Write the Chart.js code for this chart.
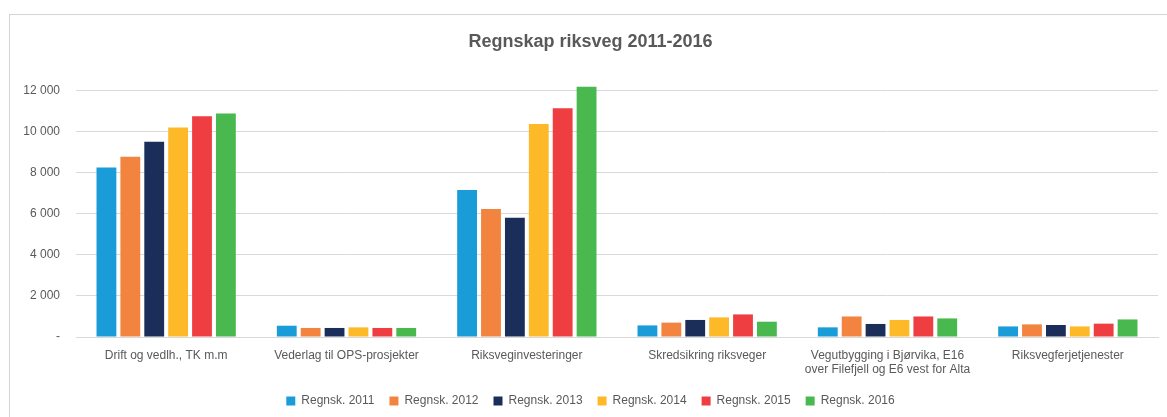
<!DOCTYPE html>
<html>
<head>
<meta charset="utf-8">
<script src="https://cdn.jsdelivr.net/npm/chart.js@4.4.1/dist/chart.umd.min.js"></script>
<style>
  html, body { margin: 0; padding: 0; background: #fff; }
  #wrap { position: relative; width: 1167px; height: 417px; }
  #frame { position: absolute; left: 9px; top: 14px; width: 1200px; height: 450px;
           border-left: 1px solid #d4d4d4; border-top: 1px solid #d4d4d4; pointer-events: none; }
</style>
</head>
<body>
<div id="wrap">
  <canvas id="chart" width="1167" height="417"></canvas>
  <div id="frame"></div>
</div>
<script>
const categories = [
    'Drift og vedlh., TK m.m',
    'Vederlag til OPS-prosjekter',
    'Riksveginvesteringer',
    'Skredsikring riksveger',
    ['Vegutbygging i Bjørvika, E16', 'over Filefjell og E6 vest for Alta'],
    'Riksvegferjetjenester'
];
const seriesNames = ['Regnsk. 2011', 'Regnsk. 2012', 'Regnsk. 2013', 'Regnsk. 2014', 'Regnsk. 2015', 'Regnsk. 2016'];
const regnsk2011 = [8260, 550, 7160, 565, 470, 515];
const regnsk2012 = [8780, 440, 6235, 700, 1000, 615];
const regnsk2013 = [9510, 440, 5810, 830, 635, 585];
const regnsk2014 = [10200, 470, 10375, 955, 830, 515];
const regnsk2015 = [10750, 440, 11135, 1100, 1000, 650];
const regnsk2016 = [10880, 440, 12190, 745, 905, 855];
const yTicks = [0, 2000, 4000, 6000, 8000, 10000, 12000];
const seriesColors = ['#1a9cd8', '#f28440', '#1b2e5a', '#fdb927', '#ef3e42', '#48b84f'];

const seriesValues = [regnsk2011, regnsk2012, regnsk2013, regnsk2014, regnsk2015, regnsk2016];
const textColor = '#595959';
const font = "'Liberation Sans', Arial, sans-serif";

const datasets = seriesNames.map((name, i) => ({
    label: name,
    data: seriesValues[i],
    backgroundColor: seriesColors[i],
    borderWidth: 0,
    clip: false,
    categoryPercentage: 0.795,
    barPercentage: 0.83
}));

// "12 000" style, zero shown as a dash
function formatTick(v) {
    if (v === 0) return '-';
    return String(v).replace(/\B(?=(\d{3})+(?!\d))/g, ' ');
}

new Chart(document.getElementById('chart'), {
    type: 'bar',
    data: { labels: categories, datasets: datasets },
    options: {
        responsive: false,
        animation: false,
        layout: { padding: { left: 23, right: 9, top: 0, bottom: 0 } },
        plugins: {
            title: {
                display: true,
                text: 'Regnskap riksveg 2011-2016',
                color: textColor,
                font: { family: font, size: 18, weight: 'bold' },
                padding: { top: 31, bottom: 38 }
            },
            legend: {
                position: 'bottom',
                labels: {
                    color: textColor,
                    font: { family: font, size: 12 },
                    boxWidth: 9,
                    boxHeight: 9,
                    padding: 15
                }
            },
            tooltip: { enabled: false }
        },
        scales: {
            x: {
                afterFit: axis => { axis.height = 43; },
                grid: { display: false, drawTicks: false },
                border: { display: true, color: '#d9d9d9', width: 1 },
                ticks: {
                    color: textColor,
                    font: { family: font, size: 12 },
                    padding: 11,
                    maxRotation: 0,
                    autoSkip: false
                }
            },
            y: {
                min: yTicks[0],
                max: yTicks[yTicks.length - 1],
                afterFit: axis => { axis.width = 53; },
                grid: { color: '#d9d9d9', drawTicks: false },
                border: { display: false },
                ticks: {
                    stepSize: 2000,
                    color: textColor,
                    font: { family: font, size: 12 },
                    padding: 16,
                    callback: v => formatTick(v)
                }
            }
        }
    }
});
</script>
</body>
</html>
